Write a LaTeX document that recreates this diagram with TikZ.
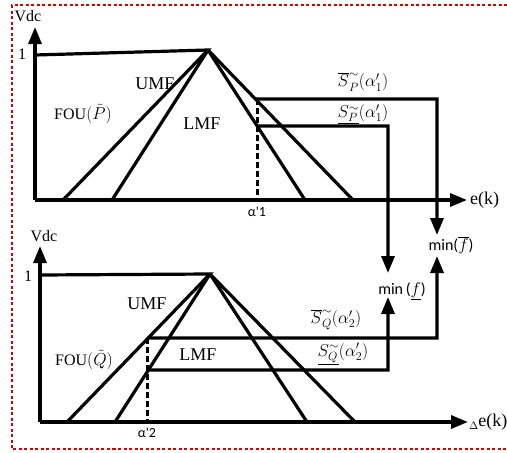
\documentclass[tikz,border=0pt]{standalone}
\usepackage{fontspec}
\setmainfont{Liberation Serif}
\newfontfamily\carl{Carlito}
\usetikzlibrary{arrows.meta,calc}
\begin{document}
\begin{tikzpicture}[x=1pt,y=-1pt,
  ln/.style={line width=3.2pt, line join=miter, line cap=butt},
  arr/.style={ln, -{Triangle[length=17pt,width=13pt]}},
  dsh/.style={line width=3pt, dash pattern=on 6pt off 3pt},
  txt/.style={inner sep=0pt, font=\fontsize{18}{20}\selectfont},
  sm/.style={inner sep=0pt, font=\fontsize{16}{18}\selectfont},
  mlbl/.style={inner sep=0pt, font=\fontsize{17}{19}\selectfont},
  sans/.style={inner sep=0pt, font=\carl\fontsize{16}{18}\selectfont},
  alab/.style={inner sep=0pt, font=\carl\fontsize{14}{16}\selectfont}]
\useasboundingbox (0,0) rectangle (507,453);
\draw[red!85!black, line width=2pt, dash pattern=on 3pt off 2.5pt] (507,5) -- (12,5) -- (12,449) -- (507,449);

% ---- top plot ----
\coordinate (o1) at (35,200);
\coordinate (y1) at (35,27);
\coordinate (x1) at (467,200);
\coordinate (f1) at (35,55);
\coordinate (p1) at (208,50);
\coordinate (ul1) at (63,200);
\coordinate (ll1) at (112,200);
\coordinate (lr1) at (305,200);
\coordinate (ur1) at (353,200);
\coordinate (a1u) at ($(p1)!0.327!(ur1)$);
\coordinate (a1l) at ($(p1)!0.507!(lr1)$);
\coordinate (d1t) at (257,99);
\coordinate (d1b) at (257,200);
\coordinate (c1u) at (437,99);
\coordinate (e1u) at (437,235);
\coordinate (c1l) at (388,126);
\coordinate (e1l) at (388,273);

\draw[arr] (o1) -- (y1);
\draw[arr] (o1) -- (x1);
\draw[ln] (f1) -- (p1) -- (ul1);
\draw[ln] (p1) -- (ll1);
\draw[ln] (p1) -- (lr1);
\draw[ln] (p1) -- (ur1);
\draw[dsh] (d1t) -- (d1b);
\draw[arr] (a1u) -- (c1u) -- (e1u);
\draw[arr] (a1l) -- (c1l) -- (e1l);

\node[sm] (vdc1) at (28,16) {Vdc};
\node[sm] (one1) at (22,54) {1};
\node[txt, anchor=west] (ek) at (470,200) {e(k)};
\node[alab] (al1) at (257,212) {α'1};
\node[txt] (umf1) at (155,84) {UMF};
\node[txt] (lmf1) at (202,124) {LMF};
\node[sm] (fou1) at (83,114) {FOU$(\tilde{P})$};
\node[mlbl] (sp1) at (363,82) {$\overline{S}^{\sim}_{P}(\alpha'_1)$};
\node[mlbl] (sl1) at (363,114) {$\underline{S^{\sim}_{P}}(\alpha'_1)$};
\node[sans] (minu) at (451,245) {min($\overline{f}$)};
\node[sans] (minl) at (402,291) {min\,($\underline{f}$)};

% ---- bottom plot ----
\coordinate (o2) at (40,422);
\coordinate (y2) at (40,246);
\coordinate (x2) at (468,422);
\coordinate (f2) at (40,275);
\coordinate (p2) at (210,274);
\coordinate (ul2) at (67,422);
\coordinate (ll2) at (115,422);
\coordinate (lr2) at (307,422);
\coordinate (ur2) at (355,422);
\coordinate (a2u) at ($(p2)!0.432!(ul2)$);
\coordinate (a2l) at ($(p2)!0.649!(ll2)$);
\coordinate (d2t) at (147,338);
\coordinate (d2b) at (147,422);
\coordinate (c2u) at (437,338);
\coordinate (e2u) at (437,256);
\coordinate (c2l) at (388,370);
\coordinate (e2l) at (388,297);

\draw[arr] (o2) -- (y2);
\draw[arr] (o2) -- (x2);
\draw[ln] (f2) -- (p2) -- (ul2);
\draw[ln] (p2) -- (ll2);
\draw[ln] (p2) -- (lr2);
\draw[ln] (p2) -- (ur2);
\draw[dsh] (d2t) -- (d2b);
\draw[arr] (a2u) -- (c2u) -- (e2u);
\draw[arr] (a2l) -- (c2l) -- (e2l);

\node[sm] (vdc2) at (44,236) {Vdc};
\node[sm] (one2) at (28,276) {1};
\node[txt, anchor=west] (dek) at (469,422) {\raisebox{-3pt}{\fontsize{11}{12}\selectfont$\Delta$}e(k)};
\node[alab] (al2) at (147,433) {α'2};
\node[txt] (umf2) at (147,304) {UMF};
\node[txt] (lmf2) at (198,355) {LMF};
\node[sm] (fou2) at (84,360) {FOU$(\tilde{Q})$};
\node[mlbl] (sq1) at (336,320) {$\overline{S}^{\sim}_{Q}(\alpha'_2)$};
\node[mlbl] (sq2) at (343,354) {$\underline{S^{\sim}_{Q}}(\alpha'_2)$};
\end{tikzpicture}
\end{document}
